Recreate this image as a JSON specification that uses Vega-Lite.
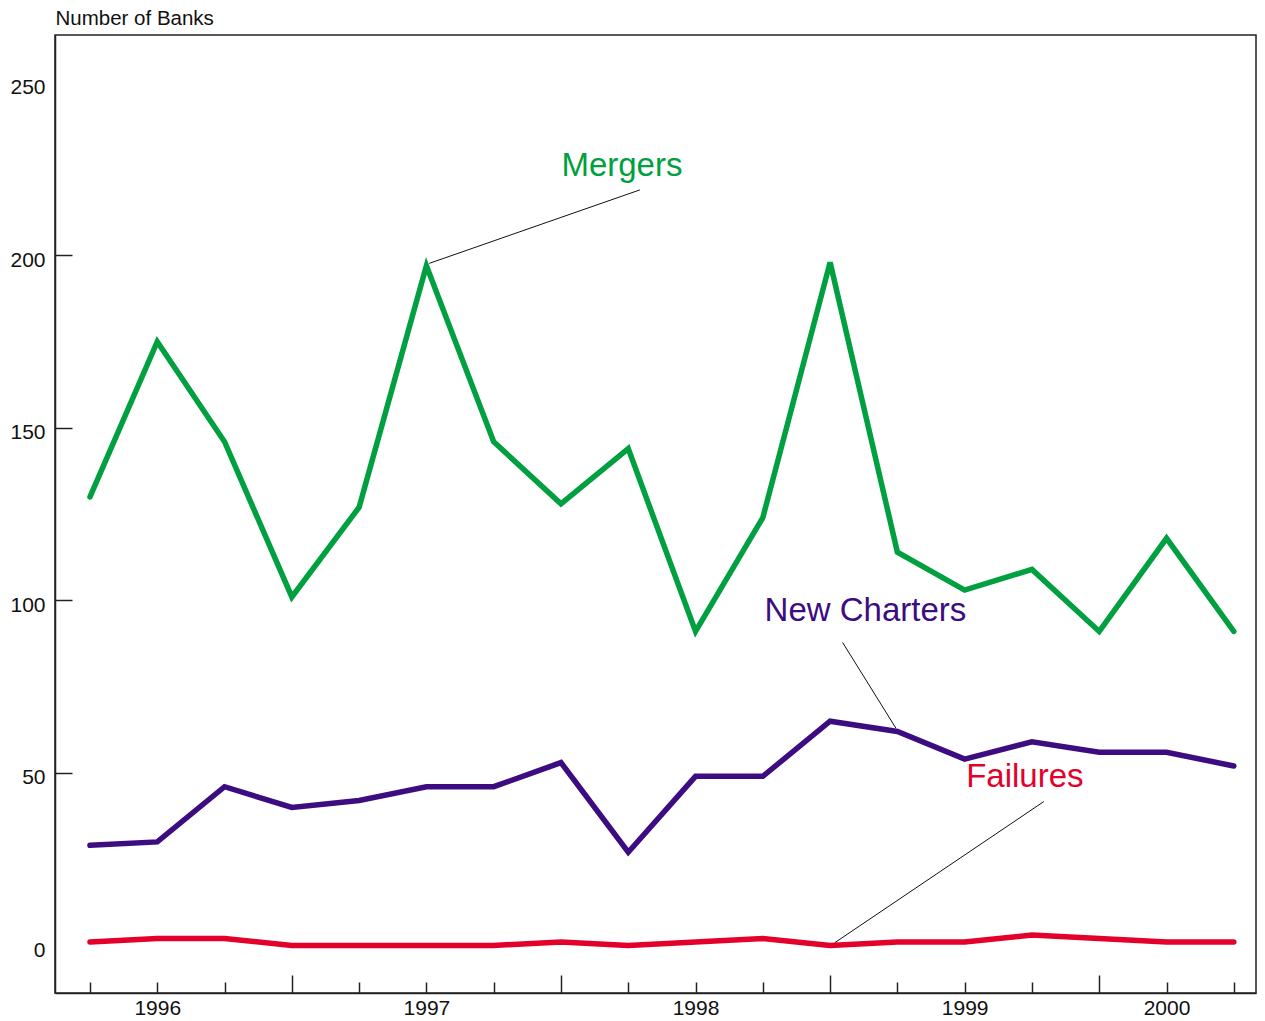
{
  "$schema": "https://vega.github.io/schema/vega-lite/v6.json",
  "width": 1201,
  "height": 958,
  "autosize": {"type": "none"},
  "padding": {"left": 55, "top": 35, "right": 9, "bottom": 28},
  "background": "white",
  "config": {
    "view": {"stroke": "#222222", "strokeWidth": 1.5},
    "font": "Liberation Sans",
    "axis": {"grid": false, "domainColor": "#222222", "domainWidth": 1.5, "tickColor": "#222222", "tickWidth": 1.5, "labelColor": "#111111", "labelFont": "Liberation Sans", "labelFontSize": 21}
  },
  "datasets": {
    "series": [
      {"q": 0, "series": "Mergers", "value": 130}, {"q": 1, "series": "Mergers", "value": 175}, {"q": 2, "series": "Mergers", "value": 146}, {"q": 3, "series": "Mergers", "value": 101}, {"q": 4, "series": "Mergers", "value": 127}, {"q": 5, "series": "Mergers", "value": 197}, {"q": 6, "series": "Mergers", "value": 146}, {"q": 7, "series": "Mergers", "value": 128}, {"q": 8, "series": "Mergers", "value": 144}, {"q": 9, "series": "Mergers", "value": 91}, {"q": 10, "series": "Mergers", "value": 124}, {"q": 11, "series": "Mergers", "value": 198}, {"q": 12, "series": "Mergers", "value": 114}, {"q": 13, "series": "Mergers", "value": 103}, {"q": 14, "series": "Mergers", "value": 109}, {"q": 15, "series": "Mergers", "value": 91}, {"q": 16, "series": "Mergers", "value": 118}, {"q": 17, "series": "Mergers", "value": 91},
      {"q": 0, "series": "New Charters", "value": 29}, {"q": 1, "series": "New Charters", "value": 30}, {"q": 2, "series": "New Charters", "value": 46}, {"q": 3, "series": "New Charters", "value": 40}, {"q": 4, "series": "New Charters", "value": 42}, {"q": 5, "series": "New Charters", "value": 46}, {"q": 6, "series": "New Charters", "value": 46}, {"q": 7, "series": "New Charters", "value": 53}, {"q": 8, "series": "New Charters", "value": 27}, {"q": 9, "series": "New Charters", "value": 49}, {"q": 10, "series": "New Charters", "value": 49}, {"q": 11, "series": "New Charters", "value": 65}, {"q": 12, "series": "New Charters", "value": 62}, {"q": 13, "series": "New Charters", "value": 54}, {"q": 14, "series": "New Charters", "value": 59}, {"q": 15, "series": "New Charters", "value": 56}, {"q": 16, "series": "New Charters", "value": 56}, {"q": 17, "series": "New Charters", "value": 52},
      {"q": 0, "series": "Failures", "value": 1}, {"q": 1, "series": "Failures", "value": 2}, {"q": 2, "series": "Failures", "value": 2}, {"q": 3, "series": "Failures", "value": 0}, {"q": 4, "series": "Failures", "value": 0}, {"q": 5, "series": "Failures", "value": 0}, {"q": 6, "series": "Failures", "value": 0}, {"q": 7, "series": "Failures", "value": 1}, {"q": 8, "series": "Failures", "value": 0}, {"q": 9, "series": "Failures", "value": 1}, {"q": 10, "series": "Failures", "value": 2}, {"q": 11, "series": "Failures", "value": 0}, {"q": 12, "series": "Failures", "value": 1}, {"q": 13, "series": "Failures", "value": 1}, {"q": 14, "series": "Failures", "value": 3}, {"q": 15, "series": "Failures", "value": 2}, {"q": 16, "series": "Failures", "value": 1}, {"q": 17, "series": "Failures", "value": 1}
    ],
    "labels": [
      {"series": "Mergers", "q": 7.906, "value": 223.1},
      {"series": "New Charters", "q": 11.525, "value": 94.1},
      {"series": "Failures", "q": 13.895, "value": 46.0}
    ],
    "leaders": [
      {"series": "Mergers", "q": 8.173, "value": 219.0, "q2": 5.042, "value2": 197.7},
      {"series": "New Charters", "q": 11.186, "value": 87.8, "q2": 11.977, "value2": 63.0},
      {"series": "Failures", "q": 14.177, "value": 41.7, "q2": 11.071, "value2": 0.8}
    ]
  },
  "layer": [
    {
      "data": {"name": "series"},
      "mark": {"type": "line", "strokeWidth": 5.5, "strokeCap": "round", "strokeJoin": "miter"},
      "encoding": {
        "x": {
          "field": "q", "type": "quantitative",
          "scale": {"domain": [-0.52, 17.33], "nice": false, "zero": false},
          "axis": {
            "title": null,
            "values": [0,1,2,3,4,5,6,7,8,9,10,11,12,13,14,15,16,17],
            "tickSize": {"condition": {"test": "indexof([3,7,11,15], datum.value) >= 0", "value": -18}, "value": -11},
            "labelPadding": 15,
            "labelBaseline": "top",
            "labelExpr": "datum.value == 1 ? '1996' : datum.value == 5 ? '1997' : datum.value == 9 ? '1998' : datum.value == 13 ? '1999' : datum.value == 16 ? '2000' : ''"
          }
        },
        "y": {
          "field": "value", "type": "quantitative",
          "scale": {"domain": [-13.8, 263.9], "nice": false, "zero": false},
          "axis": {
            "title": "Number of Banks",
            "titleAngle": 0,
            "titleAlign": "left",
            "titleBaseline": "alphabetic",
            "titleX": 0,
            "titleY": -11,
            "titleFont": "Liberation Sans",
            "titleFontSize": 20.5,
            "titleFontWeight": "normal",
            "titleColor": "#111111",
            "values": [0, 50, 100, 150, 200, 250],
            "tickSize": -17,
            "tickOpacity": {"condition": {"test": "datum.value == 0 || datum.value == 250", "value": 0}, "value": 1},
            "labelPadding": 27,
            "labelOffset": 5
          }
        },
        "color": {
          "field": "series", "type": "nominal", "legend": null,
          "scale": {"domain": ["Mergers", "New Charters", "Failures"], "range": ["#00A040", "#3C0C80", "#E3002B"]}
        }
      }
    },
    {
      "data": {"name": "leaders"},
      "mark": {"type": "rule", "color": "#111111", "strokeWidth": 1},
      "encoding": {
        "x": {"field": "q", "type": "quantitative"},
        "y": {"field": "value", "type": "quantitative"},
        "x2": {"field": "q2"},
        "y2": {"field": "value2"}
      }
    },
    {
      "data": {"name": "labels"},
      "mark": {"type": "text", "align": "center", "baseline": "alphabetic", "fontSize": 33, "font": "Liberation Sans"},
      "encoding": {
        "x": {"field": "q", "type": "quantitative"},
        "y": {"field": "value", "type": "quantitative"},
        "text": {"field": "series"},
        "color": {"field": "series", "type": "nominal", "legend": null}
      }
    }
  ]
}
